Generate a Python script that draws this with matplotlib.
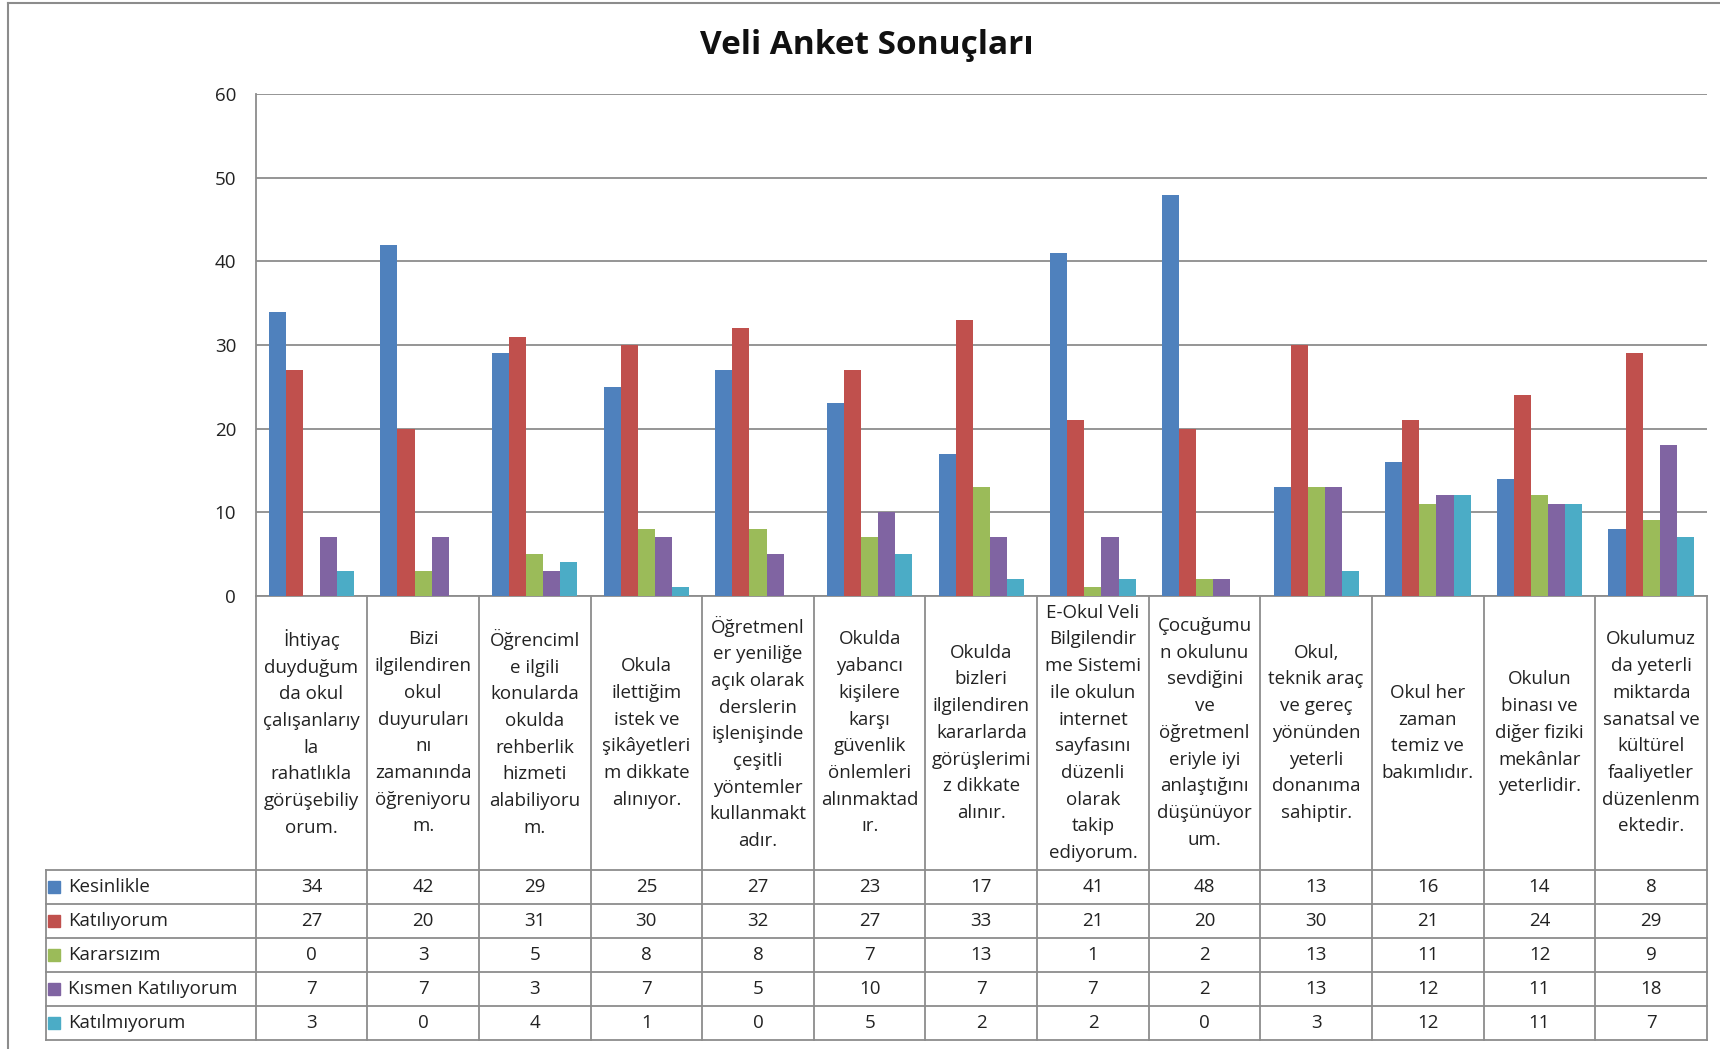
import matplotlib.pyplot as plt
import numpy as np
from matplotlib.transforms import blended_transform_factory
from matplotlib.lines import Line2D

plt.rcParams['font.family'] = ['Open Sans', 'DejaVu Sans']

# survey questions (wrapped as in the original table)
categories = [
    "İhtiyaç\nduyduğum\nda okul\nçalışanlarıy\nla\nrahatlıkla\ngörüşebiliy\norum.",
    "Bizi\nilgilendiren\nokul\nduyuruları\nnı\nzamanında\nöğreniyoru\nm.",
    "Öğrenciml\ne ilgili\nkonularda\nokulda\nrehberlik\nhizmeti\nalabiliyoru\nm.",
    "Okula\nilettiğim\nistek ve\nşikâyetleri\nm dikkate\nalınıyor.",
    "Öğretmenl\ner yeniliğe\naçık olarak\nderslerin\nişlenişinde\nçeşitli\nyöntemler\nkullanmakt\nadır.",
    "Okulda\nyabancı\nkişilere\nkarşı\ngüvenlik\nönlemleri\nalınmaktad\nır.",
    "Okulda\nbizleri\nilgilendiren\nkararlarda\ngörüşlerimi\nz dikkate\nalınır.",
    "E-Okul Veli\nBilgilendir\nme Sistemi\nile okulun\ninternet\nsayfasını\ndüzenli\nolarak\ntakip\nediyorum.",
    "Çocuğumu\nn okulunu\nsevdiğini\nve\nöğretmenl\neriyle iyi\nanlaştığını\ndüşünüyor\num.",
    "Okul,\nteknik araç\nve gereç\nyönünden\nyeterli\ndonanıma\nsahiptir.",
    "Okul her\nzaman\ntemiz ve\nbakımlıdır.",
    "Okulun\nbinası ve\ndiğer fiziki\nmekânlar\nyeterlidir.",
    "Okulumuz\nda yeterli\nmiktarda\nsanatsal ve\nkültürel\nfaaliyetler\ndüzenlenm\nektedir.",
]

series_names = ["Kesinlikle", "Katılıyorum", "Kararsızım", "Kısmen Katılıyorum", "Katılmıyorum"]
kesinlikle = [34, 42, 29, 25, 27, 23, 17, 41, 48, 13, 16, 14, 8]
katiliyorum = [27, 20, 31, 30, 32, 27, 33, 21, 20, 30, 21, 24, 29]
kararsizim = [0, 3, 5, 8, 8, 7, 13, 1, 2, 13, 11, 12, 9]
kismen = [7, 7, 3, 7, 5, 10, 7, 7, 2, 13, 12, 11, 18]
katilmiyorum = [3, 0, 4, 1, 0, 5, 2, 2, 0, 3, 12, 11, 7]
colors = ['#4F81BD', '#C0504D', '#9BBB59', '#8064A2', '#4BACC6']

series = [kesinlikle, katiliyorum, kararsizim, kismen, katilmiyorum]

W, H = 1720, 1049
fig = plt.figure(figsize=(W / 100, H / 100), dpi=100)

# plot area in pixels
left, right, top, zero = 255.6, 1707, 94.3, 595.7
ax = fig.add_axes([left / W, 1 - zero / H, (right - left) / W, (zero - top) / H])

n = len(categories)
x = np.arange(n)
bw = 0.153
for k, (vals, c) in enumerate(zip(series, colors)):
    ax.bar(x + (k - 2) * bw, vals, bw, color=c, zorder=3)

fs = 13.5
ax.set_xlim(-0.5, n - 0.5)
ax.set_ylim(0, 60)
ax.set_yticks(range(0, 61, 10))
ax.set_xticks([])
ax.grid(axis='y', color='#8c8c8c', lw=1.3, zorder=0)
for s in ['top', 'right']:
    ax.spines[s].set_visible(False)
for s in ['left', 'bottom']:
    ax.spines[s].set_color('#8c8c8c')
    ax.spines[s].set_linewidth(1.3)
ax.tick_params(axis='y', length=0, pad=14, labelsize=fs, colors='#222222')

# data table under the chart
col_px = (right - left) / n
def px2x(px):
    return -0.5 + (px - left) / col_px
def py2y(py):
    return (zero - py) / (zero - top)

tr = blended_transform_factory(ax.transData, ax.transAxes)
line_kw = dict(color='#8c8c8c', lw=1.3, transform=tr, clip_on=False)
rows_px = [870, 903.5, 938, 972, 1006, 1040]
x_leg = px2x(46)
bottom = py2y(rows_px[-1])

for i in range(n + 1):
    ax.add_line(Line2D([i - 0.5, i - 0.5], [0, bottom], **line_kw))
ax.add_line(Line2D([x_leg, x_leg], [py2y(rows_px[0]), bottom], **line_kw))
for r in rows_px:
    ax.add_line(Line2D([x_leg, n - 0.5], [py2y(r), py2y(r)], **line_kw))

cat_mid = py2y((zero + rows_px[0]) / 2)
for i, lab in enumerate(categories):
    ax.text(i, cat_mid, lab, transform=tr, ha='center', va='center',
            fontsize=fs, linespacing=1.62, color='#222222')

for r, (name, vals, c) in enumerate(zip(series_names, series, colors)):
    ym = py2y((rows_px[r] + rows_px[r + 1]) / 2)
    ax.plot([px2x(54)], [ym], marker='s', ms=8, color=c, transform=tr, clip_on=False)
    ax.text(px2x(68), ym, name, transform=tr, ha='left', va='center',
            fontsize=fs, color='#222222')
    for i, v in enumerate(vals):
        ax.text(i, ym, str(v), transform=tr, ha='center', va='center',
                fontsize=fs, color='#222222')

fig.text(866.6 / W, 1 - 46 / H, "Veli Anket Sonuçları", ha='center', va='center',
         fontsize=24, fontweight='bold', color='#111111')

# chart area border (left and top edges visible)
fig.add_artist(Line2D([8 / W, 8 / W], [0, 1 - 3 / H], color='#8c8c8c', lw=1.5, transform=fig.transFigure))
fig.add_artist(Line2D([8 / W, 1], [1 - 3 / H, 1 - 3 / H], color='#8c8c8c', lw=1.5, transform=fig.transFigure))

fig.savefig('out.png', dpi=100)
